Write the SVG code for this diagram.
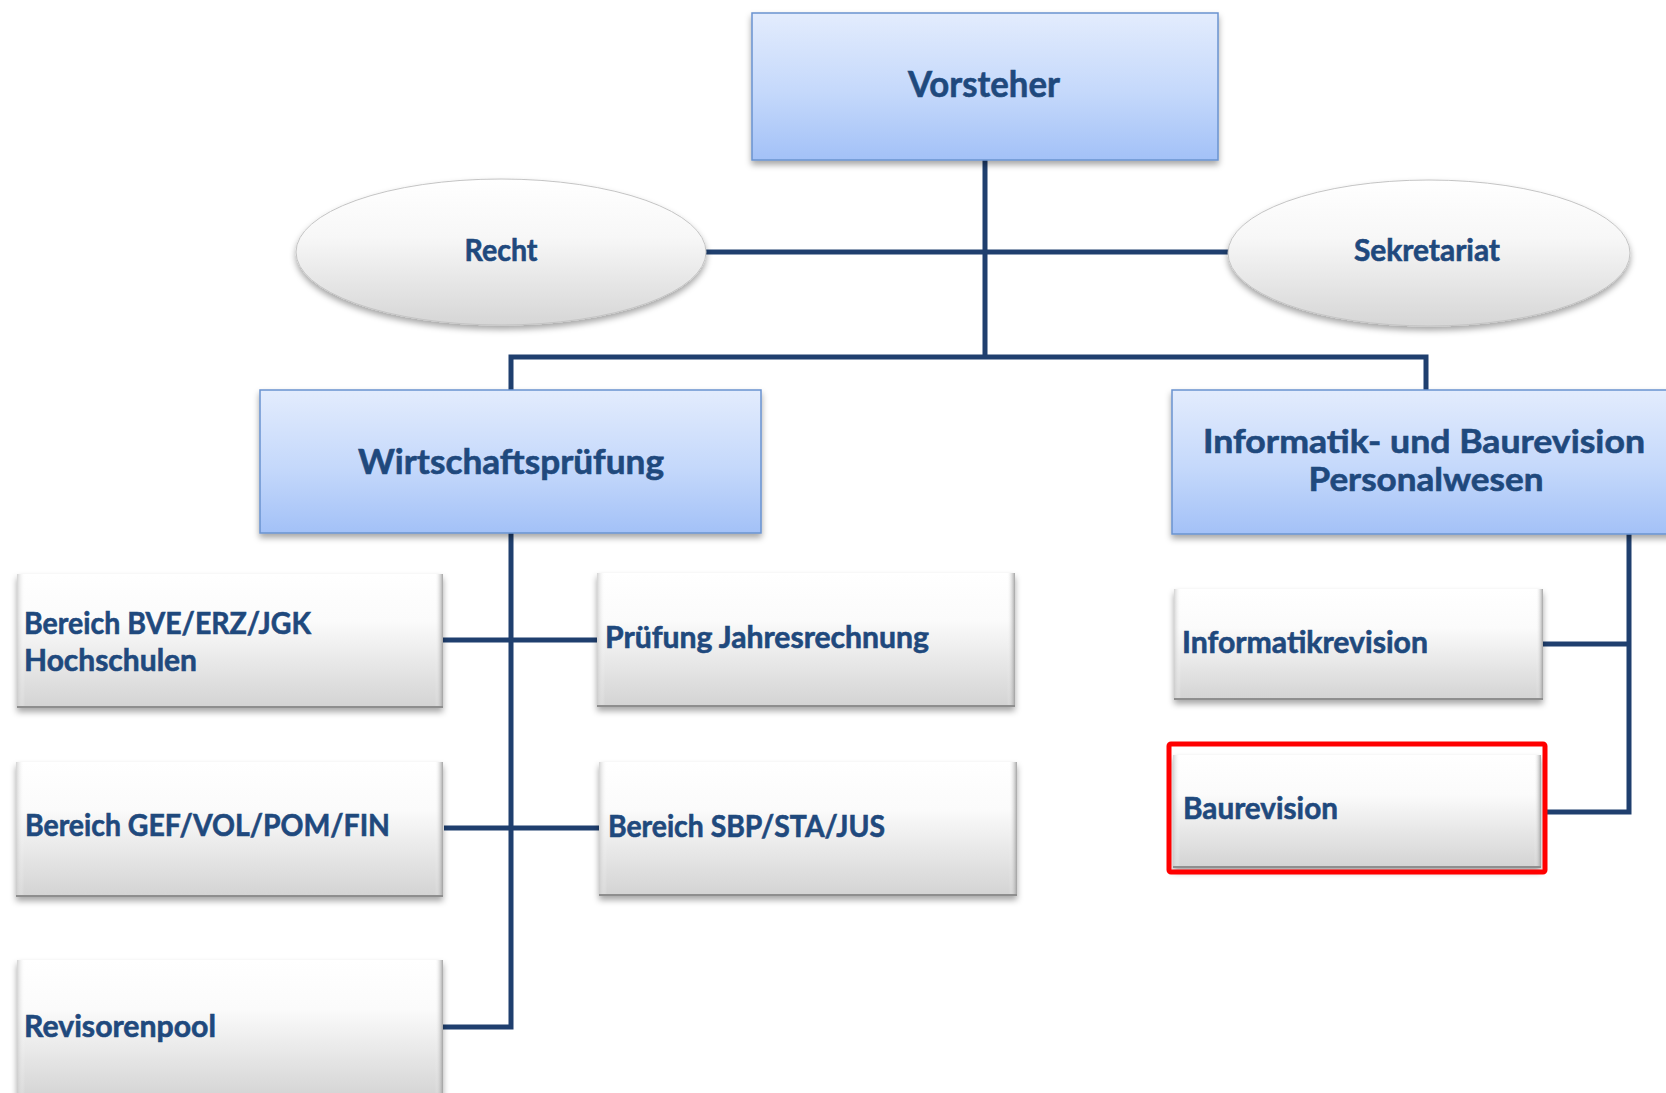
<svg xmlns="http://www.w3.org/2000/svg" width="1666" height="1093" viewBox="0 0 1666 1093">
<defs>
<linearGradient id="gBlue" x1="0" y1="0" x2="0" y2="1">
<stop offset="0" stop-color="#E3ECFD"/>
<stop offset="0.55" stop-color="#C4D8FB"/>
<stop offset="1" stop-color="#A3C1F7"/>
</linearGradient>
<linearGradient id="gGrey" x1="0" y1="0" x2="0" y2="1">
<stop offset="0" stop-color="#FFFFFF"/>
<stop offset="0.35" stop-color="#FBFBFB"/>
<stop offset="1" stop-color="#D3D3D3"/>
</linearGradient>
<linearGradient id="gEll" x1="0" y1="0" x2="0" y2="1">
<stop offset="0" stop-color="#FFFFFF"/>
<stop offset="0.4" stop-color="#F7F7F7"/>
<stop offset="1" stop-color="#D6D6D6"/>
</linearGradient>
<linearGradient id="gLeft" x1="0" y1="0" x2="1" y2="0">
<stop offset="0" stop-color="#C8C8C8" stop-opacity="0.8"/>
<stop offset="1" stop-color="#FFFFFF" stop-opacity="0"/>
</linearGradient>
<linearGradient id="gRight" x1="1" y1="0" x2="0" y2="0">
<stop offset="0" stop-color="#9A9A9A" stop-opacity="0.9"/>
<stop offset="1" stop-color="#FFFFFF" stop-opacity="0"/>
</linearGradient>
<filter id="sh" x="-5%" y="-10%" width="110%" height="130%">
<feDropShadow dx="0" dy="4" stdDeviation="3" flood-color="#000" flood-opacity="0.35"/>
</filter>
</defs>
<style>
.blue{fill:url(#gBlue);stroke:#6A93CF;stroke-width:1.5;filter:url(#sh)}
.grey{fill:url(#gGrey);stroke:none;filter:url(#sh)}
.ell{fill:url(#gEll);stroke:#C4C4C4;stroke-width:1;filter:url(#sh)}
.bot{fill:none;stroke:#8E8E8E;stroke-width:2}
.t{font-family:Lato,"Liberation Sans",sans-serif;font-weight:700;fill:#1F497D;stroke:#1F497D;stroke-width:0.6}
.c{stroke:#1F3F6E;stroke-width:5;fill:none;stroke-linejoin:miter;stroke-linecap:butt}
</style>

<g id="connectors">
<path class="c" d="M985,160 V357"/>
<path class="c" d="M706,252 H1228"/>
<path class="c" d="M511,390 V357 H1426 V390"/>
<path class="c" d="M511,533 V1027 H443"/>
<path class="c" d="M443,640 H597"/>
<path class="c" d="M444,828 H599"/>
<path class="c" d="M1629,534 V812 H1546"/>
<path class="c" d="M1629,644 H1542"/>
</g>

<g id="vorsteher">
<rect class="blue" x="752" y="13" width="466" height="147"/>
<text class="t" x="984" y="97" font-size="37" text-anchor="middle" textLength="152" lengthAdjust="spacingAndGlyphs">Vorsteher</text>
</g>

<g id="recht">
<ellipse class="ell" cx="501" cy="252" rx="205" ry="73"/>
<text class="t" x="501" y="261" font-size="30" text-anchor="middle" textLength="73" lengthAdjust="spacingAndGlyphs">Recht</text>
</g>

<g id="sekretariat">
<ellipse class="ell" cx="1429" cy="253" rx="201" ry="73"/>
<text class="t" x="1427" y="261" font-size="30" text-anchor="middle" textLength="146" lengthAdjust="spacingAndGlyphs">Sekretariat</text>
</g>

<g id="wirtschaftspruefung">
<rect class="blue" x="260" y="390" width="501" height="143"/>
<text class="t" x="511" y="474" font-size="35" text-anchor="middle" textLength="306" lengthAdjust="spacingAndGlyphs">Wirtschaftsprüfung</text>
</g>

<g id="informatik-baurevision">
<rect class="blue" x="1172" y="390" width="510" height="144"/>
<text class="t" x="1424" y="453" font-size="33" text-anchor="middle" textLength="442" lengthAdjust="spacingAndGlyphs">Informatik- und Baurevision</text>
<text class="t" x="1426" y="491" font-size="33" text-anchor="middle" textLength="235" lengthAdjust="spacingAndGlyphs">Personalwesen</text>
</g>

<g id="bereich-bve">
<rect class="grey" x="17" y="574" width="426" height="134"/>
<rect x="17" y="574" width="8" height="134" fill="url(#gLeft)"/>
<rect x="435" y="574" width="8" height="134" fill="url(#gRight)"/>
<path class="bot" d="M17,707 H443"/>
<text class="t" x="24" y="634" font-size="30" textLength="287" lengthAdjust="spacingAndGlyphs">Bereich BVE/ERZ/JGK</text>
<text class="t" x="24" y="671" font-size="30" textLength="173" lengthAdjust="spacingAndGlyphs">Hochschulen</text>
</g>

<g id="pruefung-jahresrechnung">
<rect class="grey" x="597" y="573" width="418" height="134"/>
<rect x="597" y="573" width="8" height="134" fill="url(#gLeft)"/>
<rect x="1007" y="573" width="8" height="134" fill="url(#gRight)"/>
<path class="bot" d="M597,706 H1015"/>
<text class="t" x="605" y="648" font-size="30" textLength="324" lengthAdjust="spacingAndGlyphs">Prüfung Jahresrechnung</text>
</g>

<g id="bereich-gef">
<rect class="grey" x="16" y="762" width="427" height="135"/>
<rect x="16" y="762" width="8" height="135" fill="url(#gLeft)"/>
<rect x="435" y="762" width="8" height="135" fill="url(#gRight)"/>
<path class="bot" d="M16,896 H443"/>
<text class="t" x="25" y="836" font-size="30" textLength="365" lengthAdjust="spacingAndGlyphs">Bereich GEF/VOL/POM/FIN</text>
</g>

<g id="bereich-sbp">
<rect class="grey" x="599" y="762" width="418" height="134"/>
<rect x="599" y="762" width="8" height="134" fill="url(#gLeft)"/>
<rect x="1009" y="762" width="8" height="134" fill="url(#gRight)"/>
<path class="bot" d="M599,895 H1017"/>
<text class="t" x="608" y="837" font-size="30" textLength="277" lengthAdjust="spacingAndGlyphs">Bereich SBP/STA/JUS</text>
</g>

<g id="revisorenpool">
<rect class="grey" x="17" y="960" width="426" height="140"/>
<rect x="17" y="960" width="8" height="140" fill="url(#gLeft)"/>
<rect x="435" y="960" width="8" height="140" fill="url(#gRight)"/>
<text class="t" x="24" y="1037" font-size="30" textLength="192" lengthAdjust="spacingAndGlyphs">Revisorenpool</text>
</g>

<g id="informatikrevision">
<rect class="grey" x="1174" y="589" width="369" height="111"/>
<rect x="1174" y="589" width="7" height="111" fill="url(#gLeft)"/>
<rect x="1536" y="589" width="7" height="111" fill="url(#gRight)"/>
<path class="bot" d="M1174,699 H1543"/>
<text class="t" x="1182" y="653" font-size="30" textLength="246" lengthAdjust="spacingAndGlyphs">Informatikrevision</text>
</g>

<g id="baurevision">
<rect class="grey" x="1173" y="755" width="368" height="113"/>
<rect x="1173" y="755" width="7" height="113" fill="url(#gLeft)"/>
<rect x="1534" y="755" width="7" height="113" fill="url(#gRight)"/>
<path class="bot" d="M1173,867 H1541"/>
<text class="t" x="1183" y="819" font-size="30" textLength="155" lengthAdjust="spacingAndGlyphs">Baurevision</text>
<rect x="1169" y="744" width="376" height="128" fill="none" stroke="#FF0000" stroke-width="5" rx="2"/>
</g>
</svg>
